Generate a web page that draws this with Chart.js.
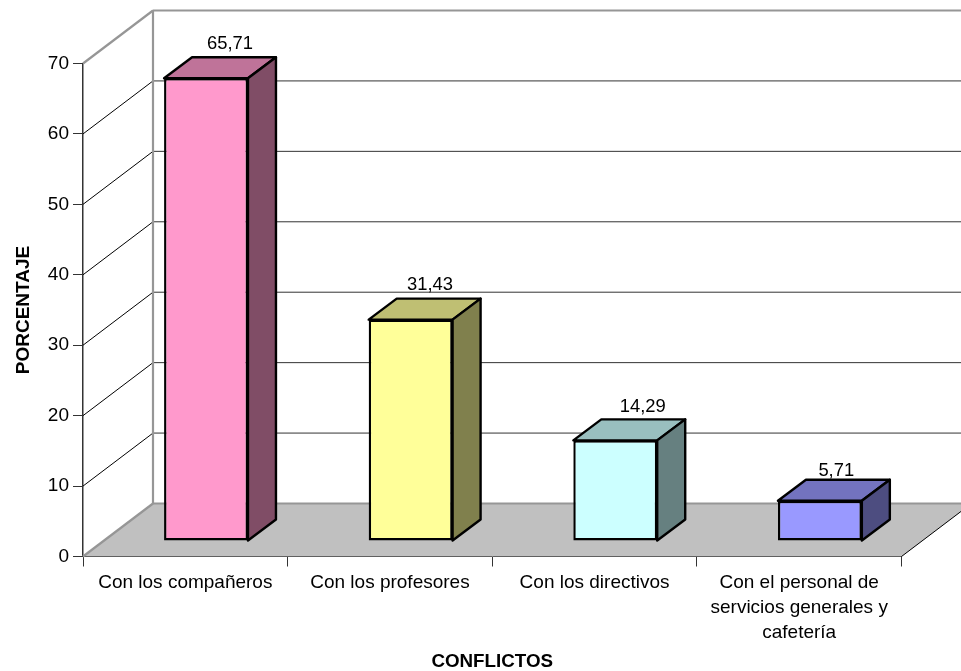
<!DOCTYPE html>
<html>
<head>
<meta charset="utf-8">
<script src="https://cdn.jsdelivr.net/npm/chart.js@4"></script>
<style>
  body { margin: 0; background: #fff; }
  canvas { display: block; }
</style>
</head>
<body>
<canvas id="grafico" width="961" height="671"></canvas>
<script>
// Datos
const categorias = ['Con los compañeros', 'Con los profesores', 'Con los directivos',
  ['Con el personal de', 'servicios generales y', 'cafetería']];
const porcentajes = [65.71, 31.43, 14.29, 5.71];
const etiquetas = ['65,71', '31,43', '14,29', '5,71'];
const ticksY = [0, 10, 20, 30, 40, 50, 60, 70];

// Colores de cada barra: frente, arriba, lado
const frente = ['#ff99cc', '#ffff99', '#ccffff', '#9999ff'];
const arriba = ['#bf7399', '#bfbf73', '#99bfbf', '#7373bf'];
const lado = ['#804d66', '#80804d', '#668080', '#4d4d80'];

const fuente = 'Liberation Sans';
const PARED = { x: 70, y: -53 };   // fondo del grafico
const DESP = { x: 20.7, y: -15.5 }; // la barra no empieza en el borde del piso
const PROF = { x: 28, y: -21 };    // profundidad de la barra
const desfaseEtiquetaX = [24, 19.4, 27.5, 16.4];
const desfaseEtiquetaY = [-13.5, -14, -12, -9];

const linea = (ctx, x1, y1, x2, y2, color, ancho) => {
  ctx.strokeStyle = color;
  ctx.lineWidth = ancho;
  ctx.beginPath();
  ctx.moveTo(x1, y1);
  ctx.lineTo(x2, y2);
  ctx.stroke();
};

const poligono = (ctx, puntos, color, borde) => {
  ctx.beginPath();
  puntos.forEach((p, i) => i ? ctx.lineTo(p[0], p[1]) : ctx.moveTo(p[0], p[1]));
  ctx.closePath();
  ctx.fillStyle = color;
  ctx.fill();
  if (borde) {
    ctx.strokeStyle = '#000';
    ctx.lineWidth = 2.4;
    ctx.lineJoin = 'round';
    ctx.stroke();
  }
};

// Paredes, piso y lineas de division
const paredes = {
  id: 'paredes',
  beforeDatasetsDraw(chart) {
    const ctx = chart.ctx;
    const { y } = chart.scales;
    const a = chart.chartArea;
    ctx.save();
    ticksY.slice(1, -1).forEach((t) => {
      const py = y.getPixelForValue(t);
      linea(ctx, a.left, py, a.left + PARED.x, py + PARED.y, '#000', 1);
      linea(ctx, a.left + PARED.x, py + PARED.y, 961, py + PARED.y, '#333', 1);
    });
    poligono(ctx, [[a.left, a.bottom], [a.right, a.bottom],
      [a.right + PARED.x, a.bottom + PARED.y], [a.left + PARED.x, a.bottom + PARED.y]], '#c0c0c0');
    const gris = '#969696';
    linea(ctx, a.left, a.bottom, a.left + PARED.x, a.bottom + PARED.y, gris, 2.2);
    linea(ctx, a.left + PARED.x, a.bottom + PARED.y, 961, a.bottom + PARED.y, gris, 2.2);
    linea(ctx, a.left + PARED.x, a.bottom + PARED.y, a.left + PARED.x, a.top + PARED.y, gris, 2.2);
    linea(ctx, a.left, a.top, a.left + PARED.x, a.top + PARED.y, gris, 2.2);
    linea(ctx, a.left + PARED.x, a.top + PARED.y, 961, a.top + PARED.y, gris, 2.2);
    linea(ctx, a.right, a.bottom, a.right + PARED.x, a.bottom + PARED.y, '#000', 1);
    ctx.restore();
  }
};

// Caras de arriba y del lado; el frente lo dibuja Chart.js
const barras3d = {
  id: 'barras3d',
  beforeDatasetDraw(chart, args) {
    const ctx = chart.ctx;
    ctx.save();
    ctx.translate(DESP.x, DESP.y);
    args.meta.data.forEach((barra, i) => {
      const m = barra.width / 2;
      const iz = barra.x - m, de = barra.x + m;
      poligono(ctx, [[iz, barra.y], [iz + PROF.x, barra.y + PROF.y],
        [de + PROF.x, barra.y + PROF.y], [de, barra.y]], arriba[i], true);
      poligono(ctx, [[de, barra.y], [de + PROF.x, barra.y + PROF.y],
        [de + PROF.x, barra.base + PROF.y], [de, barra.base]], lado[i], true);
    });
  },
  afterDatasetDraw(chart, args) {
    const ctx = chart.ctx;
    ctx.restore();
    ctx.save();
    ctx.font = '18.4px "' + fuente + '"';
    ctx.fillStyle = '#000';
    ctx.textAlign = 'center';
    ctx.textBaseline = 'middle';
    args.meta.data.forEach((barra, i) => {
      ctx.fillText(etiquetas[i], barra.x + DESP.x + desfaseEtiquetaX[i],
        barra.y + DESP.y + PROF.y + desfaseEtiquetaY[i]);
    });
    ctx.restore();
  }
};

new Chart(document.getElementById('grafico'), {
  type: 'bar',
  data: {
    labels: categorias,
    datasets: [{
      data: porcentajes,
      backgroundColor: frente,
      borderColor: '#000',
      borderWidth: 2.4,
      borderSkipped: false,
      barPercentage: 0.41,
      categoryPercentage: 1
    }]
  },
  options: {
    responsive: false,
    animation: false,
    layout: { padding: { top: 63.5, right: 59.5, left: 0, bottom: 0 } },
    plugins: { legend: { display: false }, tooltip: { enabled: false } },
    scales: {
      x: {
        grid: { drawOnChartArea: false, color: '#333', tickLength: 10 },
        border: { color: '#000' },
        ticks: { color: '#000', maxRotation: 0, autoSkip: false, padding: 4, font: { family: fuente, size: 19, lineHeight: 1.32 } },
        title: { display: true, text: 'CONFLICTOS', color: '#000', padding: { top: 0, bottom: -2 }, font: { family: fuente, size: 18.8, weight: 'bold' } },
        afterFit(s) { s.height = 114.5; }
      },
      y: {
        min: 0,
        max: 70,
        afterBuildTicks(s) { s.ticks = ticksY.map((v) => ({ value: v })); },
        grid: { drawOnChartArea: false, color: '#333', tickLength: 10 },
        border: { color: '#333', width: 1.5 },
        ticks: { color: '#000', padding: 4, font: { family: fuente, size: 19 } },
        title: { display: true, text: 'PORCENTAJE', color: '#000', padding: { top: 12, bottom: 0 }, font: { family: fuente, size: 19, weight: 'bold' } },
        afterFit(s) { s.width = 83; }
      }
    }
  },
  plugins: [paredes, barras3d]
});
</script>
</body>
</html>
